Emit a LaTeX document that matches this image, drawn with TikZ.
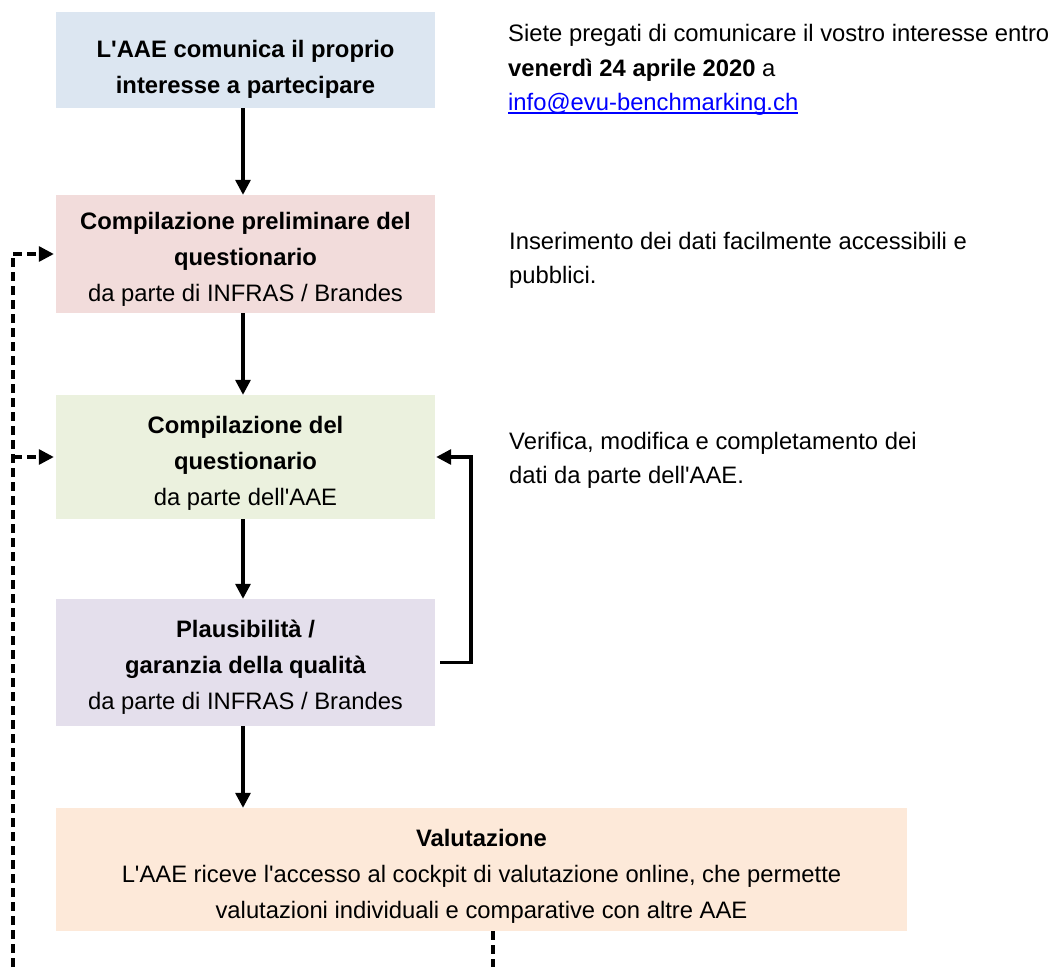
\documentclass[tikz,border=0pt]{standalone}
\usepackage{fontspec}
\setmainfont{Liberation Sans}[Ligatures=TeXOff]
\usetikzlibrary{arrows.meta}
\definecolor{cblue}{HTML}{DCE6F1}
\definecolor{cpink}{HTML}{F2DCDB}
\definecolor{cgreen}{HTML}{EBF1DE}
\definecolor{cpurple}{HTML}{E4DFEC}
\definecolor{corange}{HTML}{FDE9D9}
\definecolor{clink}{HTML}{0000FF}
\newcommand\bxt[2]{\raisebox{-#1}[\height][\depth]{\begin{tabular}{@{}c@{}}#2\end{tabular}}}
\newcommand\myul[1]{\setbox0\hbox{#1}\rlap{\rule[-3pt]{\wd0}{1.3pt}}\box0}
\tikzset{
  box/.style={minimum width=379pt, inner sep=0pt, font=\fontsize{23.8}{36}\selectfont},
  side/.style={anchor=west, inner sep=0pt, align=left, font=\fontsize{23.8}{34.5}\selectfont},
  arr/.style={line width=3.2pt, -{Triangle[length=15pt,width=15pt]}},
  darr/.style={line width=3.2pt, dash pattern=on 9pt off 5pt, -{Triangle[length=15pt,width=15pt]}},
  dline/.style={line width=3.2pt, dash pattern=on 9pt off 5pt},
}
\begin{document}
\begin{tikzpicture}[x=1pt,y=-1pt]
\useasboundingbox (0,0) rectangle (1057,967);
\node[box, fill=cblue, minimum height=96pt] (b1) at (245.5,60) {\bxt{8pt}{\textbf{L'AAE comunica il proprio}\\\textbf{interesse a partecipare}}};
\node[box, fill=cpink, minimum height=118pt] (b2) at (245.5,254) {\bxt{4pt}{\textbf{Compilazione preliminare del}\\\textbf{questionario}\\da parte di INFRAS / Brandes}};
\node[box, fill=cgreen, minimum height=124pt] (b3) at (245.5,457) {\bxt{5pt}{\textbf{Compilazione del}\\\textbf{questionario}\\da parte dell'AAE}};
\node[box, fill=cpurple, minimum height=127pt] (b4) at (245.5,662.5) {\bxt{4pt}{\textbf{Plausibilità /}\\\textbf{garanzia della qualità}\\da parte di INFRAS / Brandes}};
\node[box, fill=corange, minimum width=851pt, minimum height=123pt] (b5) at (481.5,869.5) {\bxt{5.5pt}{\textbf{Valutazione}\\L'AAE riceve l'accesso al cockpit di valutazione online, che permette\\valutazioni individuali e comparative con altre AAE}};
\node[side] (t1) at (508,70) {Siete pregati di comunicare il vostro interesse entro\\\textbf{venerdì 24 aprile 2020} a\\\textcolor{clink}{\myul{info@evu-benchmarking.ch}}};
\node[side] (t2) at (509,260.5) {Inserimento dei dati facilmente accessibili e\\pubblici.};
\node[side] (t3) at (509,460.5) {Verifica, modifica e completamento dei\\dati da parte dell'AAE.};
\coordinate (vx) at (243,0);
\draw[arr] (b1.south -| vx) -- (b2.north -| vx);
\draw[arr] (b2.south -| vx) -- (b3.north -| vx);
\draw[arr] (b3.south -| vx) -- (b4.north -| vx);
\draw[arr] (b4.south -| vx) -- (b5.north -| vx);
\coordinate (fb) at (471,0);
\draw[arr, shorten <=5pt, shorten >=1pt] (b4.east) -- (b4.east -| fb) -- (b3.east -| fb) -- (b3.east);
\coordinate (dl) at (13,967);
\draw[dline] (dl) -- (b2.west -| dl);
\draw[darr, shorten >=2pt] (b2.west -| dl) -- (b2.west);
\draw[darr, shorten >=2pt] (b3.west -| dl) -- (b3.west);
\coordinate (dr) at (493,967);
\draw[dline] (b5.south -| dr) -- (dr);
\end{tikzpicture}
\end{document}
